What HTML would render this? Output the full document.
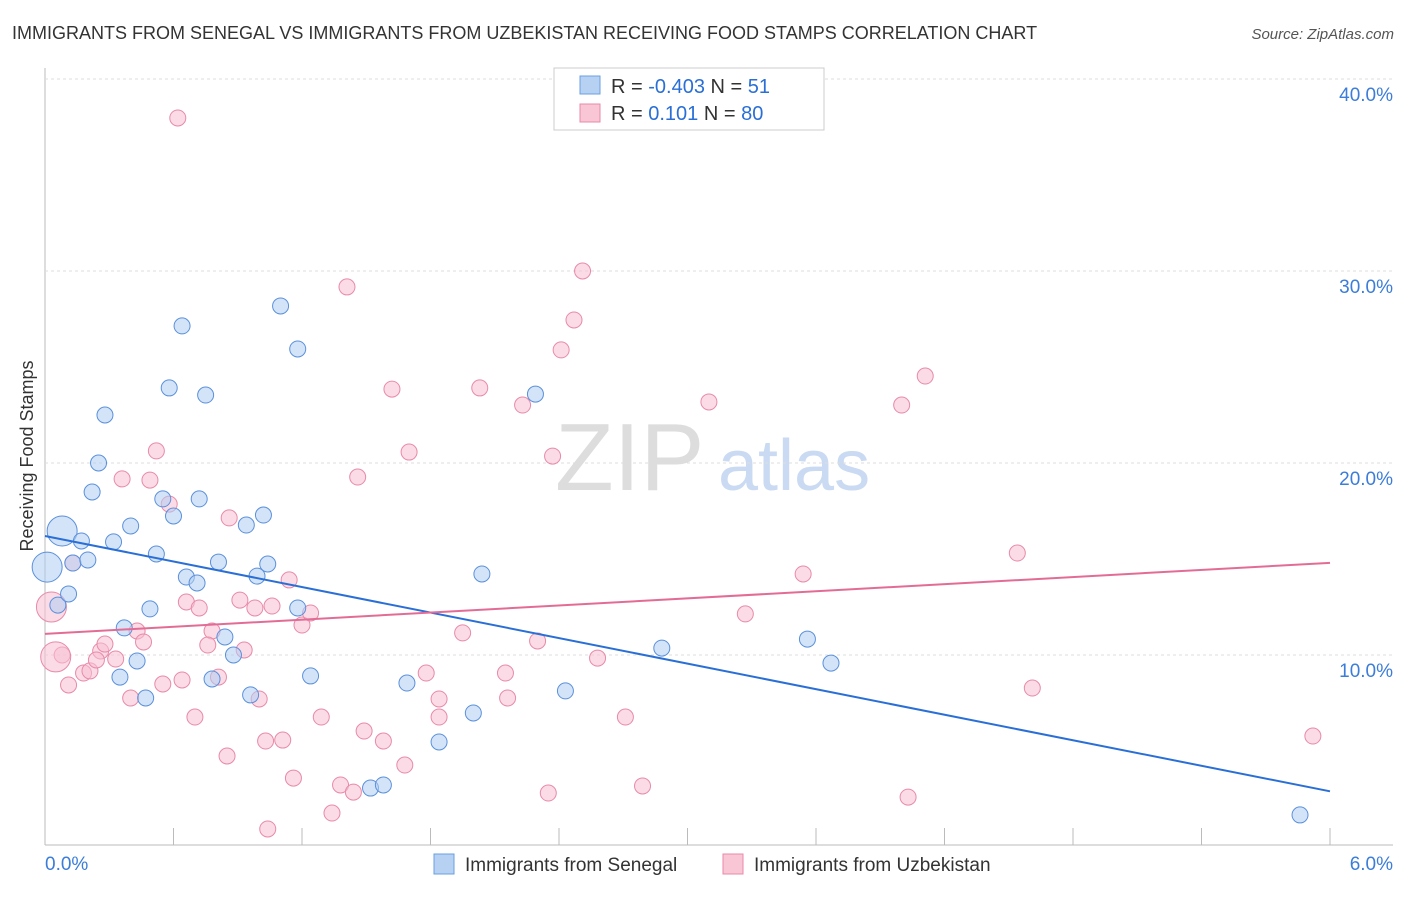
<!DOCTYPE html>
<html><head><meta charset="utf-8"><style>
body{margin:0;background:#fff;font-family:"Liberation Sans",sans-serif}
svg text{font-family:"Liberation Sans",sans-serif}
</style></head><body>
<svg id="c" width="1406" height="892">
<text x="12" y="39" font-size="18" fill="#333">IMMIGRANTS FROM SENEGAL VS IMMIGRANTS FROM UZBEKISTAN RECEIVING FOOD STAMPS CORRELATION CHART</text>
<text x="1394" y="39" font-size="15" fill="#555" font-style="italic" text-anchor="end">Source: ZipAtlas.com</text>
<text transform="translate(33,456) rotate(-90)" font-size="18" fill="#333" text-anchor="middle">Receiving Food Stamps</text>
<text x="555" y="490" font-size="96" fill="#ddd" font-family="Liberation Serif">ZIP</text>
<text x="718" y="490" font-size="72" fill="#c9daf2">atlas</text>
<g id="grid"></g><g id="pts"></g><g id="lines"></g>
<g>
<rect x="554" y="68" width="270" height="62" fill="#fff" stroke="#ccc"/>
<rect x="580" y="76" width="20" height="18" fill="#b7d1f3" stroke="#6a9fe0"/>
<rect x="580" y="104" width="20" height="18" fill="#f8c6d5" stroke="#e88aa8"/>
<text x="611" y="93" font-size="20" fill="#333">R = <tspan fill="#2a6fd6">-0.403</tspan>   N =  <tspan fill="#2a6fd6">51</tspan></text>
<text x="611" y="120" font-size="20" fill="#333">R =    <tspan fill="#2a6fd6">0.101</tspan>   N = <tspan fill="#2a6fd6">80</tspan></text>
</g>
<g>
<rect x="434" y="854" width="20" height="20" fill="#b7d1f3" stroke="#6a9fe0"/>
<text x="465" y="871" font-size="19" fill="#333">Immigrants from Senegal</text>
<rect x="723" y="854" width="20" height="20" fill="#f8c6d5" stroke="#e88aa8"/>
<text x="754" y="871" font-size="19" fill="#333">Immigrants from Uzbekistan</text>
</g>
</svg>
<script>
const yTicks=[10,20,30,40];
const xTickLabels=["0.0%","6.0%"];
const blueX=[0.08,0.01,0.06,0.11,0.13,0.20,0.17,0.28,0.25,0.22,0.32,0.40,0.37,0.35,0.47,0.43,0.49,0.52,0.55,0.60,0.58,0.64,0.75,0.72,0.66,0.71,0.81,0.78,0.84,0.88,0.96,0.99,1.02,1.04,0.94,1.10,1.18,1.18,1.24,1.52,1.58,1.69,1.84,2.00,2.04,2.29,2.43,2.88,3.56,3.67,5.86];
const blueY=[16.46,14.58,12.6,13.18,14.79,14.95,15.94,22.5,20.0,18.49,15.89,16.72,11.41,8.85,7.76,9.69,12.4,15.26,18.13,17.24,23.91,27.14,23.54,18.13,14.06,13.75,14.84,8.75,10.94,10.0,7.92,14.11,17.29,14.74,16.77,28.18,25.94,12.45,8.91,3.07,3.23,8.54,5.47,6.98,14.22,23.59,8.13,10.36,10.83,9.58,1.67];
const pinkX=[0.62,1.41,2.51,2.47,2.41,1.62,2.03,2.23,3.10,4.00,4.11,1.70,2.37,1.46,0.52,0.36,0.49,0.58,0.86,4.54,3.54,1.14,0.13,0.03,0.66,0.72,0.91,0.98,1.06,1.20,1.24,0.43,0.46,0.78,0.76,0.93,1.95,2.30,3.27,0.26,0.33,0.08,0.05,0.18,0.21,0.11,0.55,0.64,0.81,2.58,1.78,2.15,0.40,0.70,1.00,1.29,1.84,1.84,2.16,2.71,4.61,1.49,1.58,1.03,1.11,0.85,1.68,1.16,1.38,1.44,2.35,2.79,4.03,1.34,1.04,5.92,0.28,0.24];
const pinkY=[37.97,29.17,30.0,27.45,25.89,23.85,23.91,23.02,23.18,23.02,24.53,20.57,20.36,19.27,20.63,19.17,19.11,17.86,17.14,15.31,14.22,13.91,14.79,12.5,12.76,12.45,12.86,12.45,12.55,11.56,12.19,11.25,10.68,11.25,10.52,10.26,11.15,10.73,12.14,10.21,9.79,10.0,9.9,9.06,9.17,8.44,8.49,8.7,8.85,9.84,9.06,9.06,7.76,6.77,7.71,6.77,7.71,6.77,7.76,6.77,8.28,6.04,5.52,5.52,5.57,4.74,4.27,3.59,3.23,2.86,2.81,3.18,2.6,1.77,0.94,5.78,10.57,9.74];
const blueTrend=[16.2,2.9];
const pinkTrend=[11.1,14.8];
const X=v=>45+v*1285/6, Y=v=>847-v*19.2;
const NS="http://www.w3.org/2000/svg";
function mk(t,a,p){const e=document.createElementNS(NS,t);for(const k in a)e.setAttribute(k,a[k]);p.appendChild(e);return e;}
const g=document.getElementById('grid');
const ax=mk('line',{x1:45,y1:68,x2:45,y2:845,stroke:'#bbb'},g);


const bx=mk('line',{x1:45,y1:845,x2:1393,y2:845,stroke:'#bbb'},g);


yTicks.forEach(t=>{const l=mk('line',{x1:45,y1:Y(t),x2:1393,y2:Y(t),stroke:'#ddd','stroke-dasharray':'3,3'},g);


const tx=mk('text',{x:1393,y:Y(t)+22,'font-size':19,fill:'#3b7dd8','text-anchor':'end'},g);tx.textContent=t.toFixed(1)+'%';

});
for(let i=0;i<=10;i++){const l=mk('line',{x1:X(i*0.6),y1:828,x2:X(i*0.6),y2:845,stroke:'#bbb'},g);

}
xTickLabels.forEach((s,i)=>{const tx=mk('text',{x:i?1393:45,y:870,'font-size':19,fill:'#3b7dd8','text-anchor':i?'end':'start'},g);tx.textContent=s;

});
const p=document.getElementById('pts');
function dots(xs,ys,f,s,name){xs.forEach((x,i)=>{const big=(x<0.1&&(i<2||(name==='pink-point'&&(i===23||i===42))));
const c=mk('circle',{cx:X(x),cy:Y(ys[i]),r:big?15:8,fill:f,'fill-opacity':0.55,stroke:s,'stroke-width':1},p);

});}
dots(pinkX,pinkY,'#f8c0d2','#e88aa8','pink-point');
dots(blueX,blueY,'#b0cdf2','#5a90dc','blue-point');
const L=document.getElementById('lines');
const b=mk('line',{x1:X(0),y1:Y(blueTrend[0]),x2:X(6),y2:Y(blueTrend[1]),stroke:'#2a6fd6','stroke-width':2},L);


const pk=mk('line',{x1:X(0),y1:Y(pinkTrend[0]),x2:X(6),y2:Y(pinkTrend[1]),stroke:'#e36c96','stroke-width':2},L);


</script>
</body></html>
